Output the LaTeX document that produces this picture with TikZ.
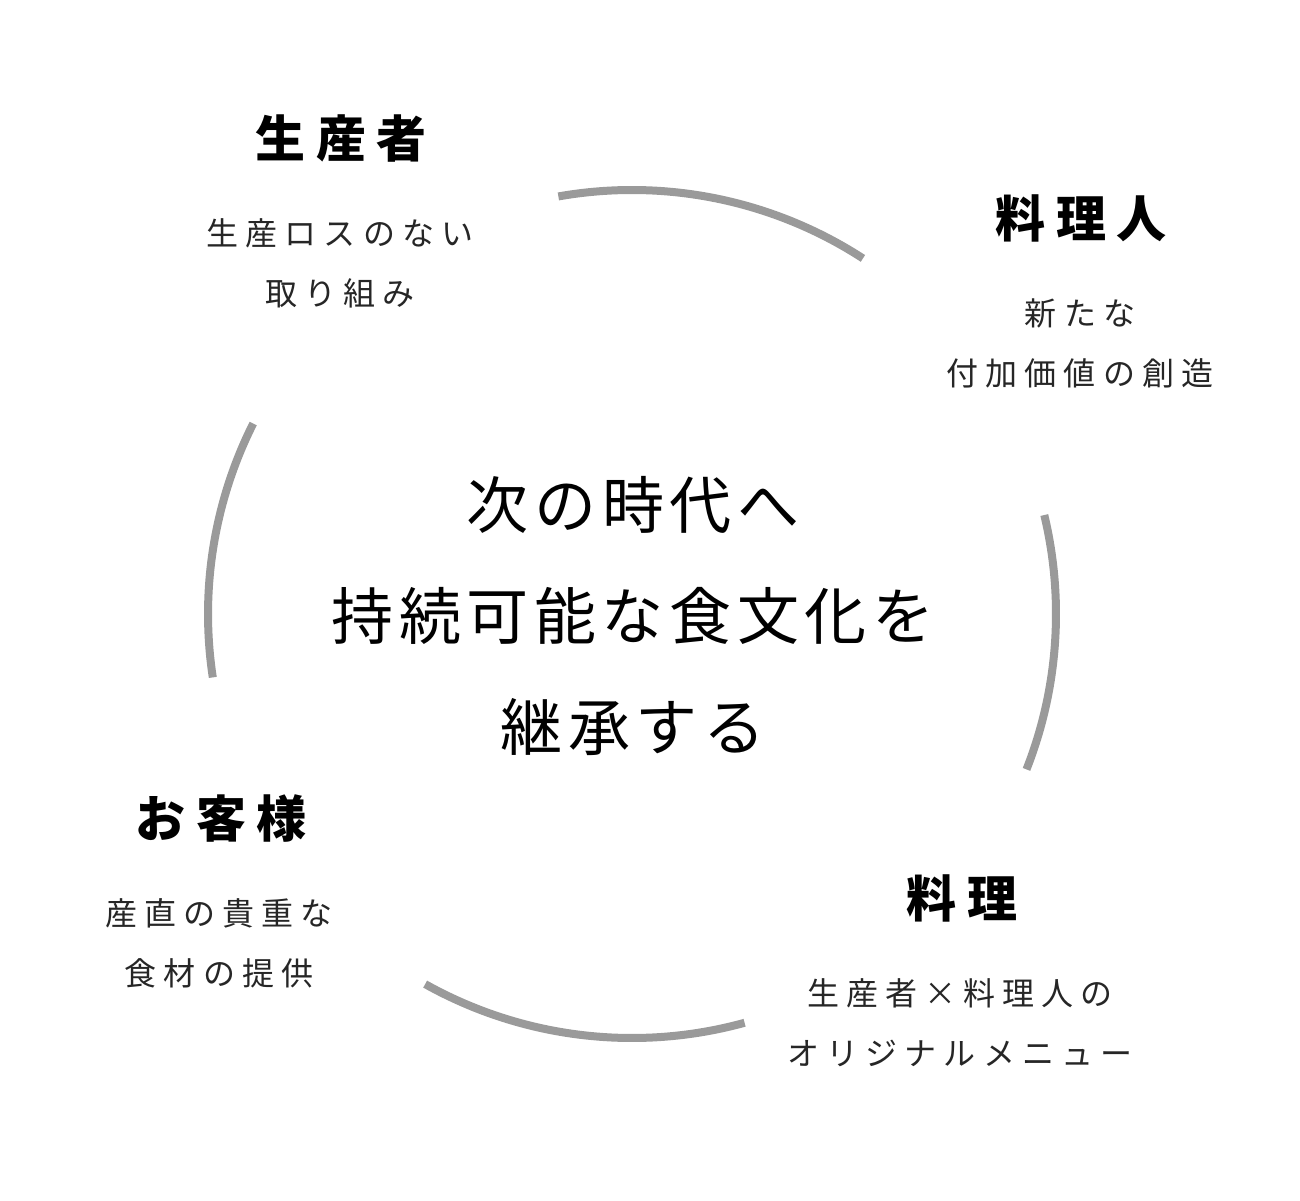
\documentclass[tikz,border=0pt]{standalone}
\usepackage{fontspec}
\usepackage{xcolor}
\definecolor{xamvong}{HTML}{9A9A9A}
\def\mauvong{xamvong}
\newfontfamily\jptitle{Noto Sans CJK JP}[LetterSpace=21]
\newfontfamily\jptext{Noto Sans CJK JP}[LetterSpace=22]
\newfontfamily\jpcenter{Noto Sans CJK JP}[LetterSpace=9]
\usetikzlibrary{calc}

\begin{document}
\begin{tikzpicture}[x=1pt,y=-1pt,declare function={%
			r=424;
		}
		]%
		\tikzset{
			stylering/.style={draw=\mauvong,line width=8pt},
			styletitle/.style={inner sep=0pt,font=\fontsize{50}{60}\jptitle\bfseries,text=black},
			styletext/.style={inner sep=0pt,align=center,font=\fontsize{32}{60}\jptext,text=black!85},
			stylecenter/.style={inner sep=0pt,align=center,font=\fontsize{62}{111}\jpcenter,text=black}
		}
		\useasboundingbox (0,0) rectangle (1300,1200);
		\coordinate (o) at (632,614);
		%%%vòng tròn đứt đoạn
		\draw[stylering] ($(o)+(-100:r)$) arc[start angle=-100,end angle=-57,radius=r];
		\draw[stylering] ($(o)+(-13.5:r)$) arc[start angle=-13.5,end angle=21.5,radius=r];
		\draw[stylering] ($(o)+(74.6:r)$) arc[start angle=74.6,end angle=119.2,radius=r];
		\draw[stylering] ($(o)+(171.4:r)$) arc[start angle=171.4,end angle=206.7,radius=r];
		%%%chữ ở giữa
		\path (o) ++(1,2) node[stylecenter] (nc) {次の時代へ\\持続可能な食文化を\\継承する};
		%%%sinh sản
		\path (341,138) node[styletitle] (na) {生産者};
		\path (na) ++(-1,125) node[styletext] (nat) {生産ロスのない\\取り組み};
		%%%đầu bếp
		\path (1081,218) node[styletitle] (nb) {料理人};
		\path (nb) ++(-1,125) node[styletext] (nbt) {新たな\\付加価値の創造};
		%%%khách hàng
		\path (221,818) node[styletitle] (nd) {お客様};
		\path (nd) ++(-2,125) node[styletext] (ndt) {産直の貴重な\\食材の提供};
		%%%món ăn
		\path (962,898) node[styletitle] (ne) {料理};
		\path (ne) ++(-2,125) node[styletext] (net) {生産者×料理人の\\オリジナルメニュー};
	\end{tikzpicture}
\end{document}
